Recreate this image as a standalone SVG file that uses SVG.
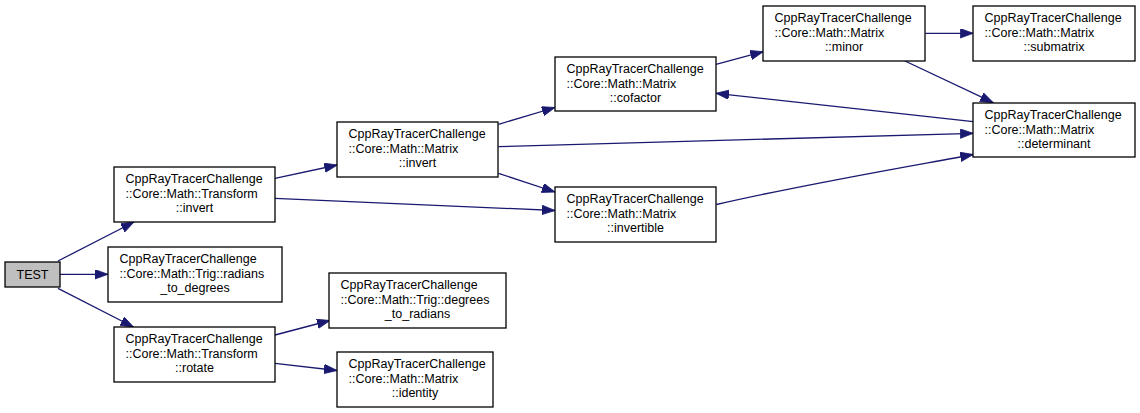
<svg xmlns="http://www.w3.org/2000/svg" width="1140" height="413" viewBox="0 0 1140 413">
<style>
.bg{fill:#ffffff}
.box{fill:#ffffff;stroke:#000000;stroke-width:1.3}
.root{fill:#bfbfbf;stroke:#000000;stroke-width:1.3}
text{font-family:"Liberation Sans",Arial,Helvetica,sans-serif;font-size:12.5px;fill:#000000}
.m{text-anchor:middle}
.e{fill:none;stroke:#191970;stroke-width:1.3}
</style>
<defs>
<marker id="ah" markerUnits="userSpaceOnUse" markerWidth="14" markerHeight="10" refX="13" refY="4.7" orient="auto">
<path d="M0,0 L13,4.7 L0,9.4 z" fill="#191970" stroke="#191970" stroke-width="0.8"/>
</marker>
</defs>
<rect class="bg" x="0" y="0" width="1140" height="413"/>
<g id="edges">
<path class="e" marker-end="url(#ah)" d="M58,261 L134,222"/>
<path class="e" marker-end="url(#ah)" d="M60,274.3 L108,274.3"/>
<path class="e" marker-end="url(#ah)" d="M58,288.3 L133.5,327"/>
<path class="e" marker-end="url(#ah)" d="M275,178.3 L337.3,165"/>
<path class="e" marker-end="url(#ah)" d="M275,198.3 L555,210.5"/>
<path class="e" marker-end="url(#ah)" d="M498.5,124.3 L555,107.5"/>
<path class="e" marker-end="url(#ah)" d="M498.5,146.7 L973.3,133.3"/>
<path class="e" marker-end="url(#ah)" d="M498.5,173.3 L555,192"/>
<path class="e" marker-end="url(#ah)" d="M716,64.3 L763.3,51.7"/>
<path class="e" marker-end="url(#ah)" d="M973.3,121.7 L716,93.3"/>
<path class="e" marker-end="url(#ah)" d="M925.5,33.3 L973.3,33.3"/>
<path class="e" marker-end="url(#ah)" d="M905,61 L993.3,102.7"/>
<path class="e" marker-end="url(#ah)" d="M716.5,204.5 C800,185 900,168 973.3,154.5"/>
<path class="e" marker-end="url(#ah)" d="M275,335 L330,320.5"/>
<path class="e" marker-end="url(#ah)" d="M275,363.3 L337,370.5"/>
</g>
<g id="node_test">
<rect class="root" x="5" y="262" width="55" height="25"/>
<text class="m" x="32.5" y="279">TEST</text>
</g>
<g id="node_transform_invert">
<rect class="box" x="114" y="167" width="161" height="55"/>
<text x="125.5" y="183">CppRayTracerChallenge</text>
<text x="125.5" y="197.5">::Core::Math::Transform</text>
<text class="m" x="194.5" y="212">::invert</text>
</g>
<g id="node_radians_to_degrees">
<rect class="box" x="108" y="247" width="174" height="55"/>
<text x="119.5" y="263">CppRayTracerChallenge</text>
<text x="119.5" y="277.5">::Core::Math::Trig::radians</text>
<text class="m" x="195" y="292">_to_degrees</text>
</g>
<g id="node_transform_rotate">
<rect class="box" x="114" y="327" width="161" height="55"/>
<text x="125.5" y="343">CppRayTracerChallenge</text>
<text x="125.5" y="357.5">::Core::Math::Transform</text>
<text class="m" x="194.5" y="372">::rotate</text>
</g>
<g id="node_matrix_invert">
<rect class="box" x="337" y="122" width="161" height="55"/>
<text x="348.5" y="138">CppRayTracerChallenge</text>
<text x="348.5" y="152.5">::Core::Math::Matrix</text>
<text class="m" x="417.5" y="167">::invert</text>
</g>
<g id="node_invertible">
<rect class="box" x="555" y="187" width="161" height="55"/>
<text x="566.5" y="203">CppRayTracerChallenge</text>
<text x="566.5" y="217.5">::Core::Math::Matrix</text>
<text class="m" x="635.5" y="232">::invertible</text>
</g>
<g id="node_cofactor">
<rect class="box" x="555" y="57" width="161" height="54"/>
<text x="566.5" y="73">CppRayTracerChallenge</text>
<text x="566.5" y="87.5">::Core::Math::Matrix</text>
<text class="m" x="635.5" y="102">::cofactor</text>
</g>
<g id="node_minor">
<rect class="box" x="763" y="6" width="162" height="55"/>
<text x="774.5" y="22">CppRayTracerChallenge</text>
<text x="774.5" y="36.5">::Core::Math::Matrix</text>
<text class="m" x="844" y="51">::minor</text>
</g>
<g id="node_submatrix">
<rect class="box" x="973" y="6" width="162" height="55"/>
<text x="984.5" y="22">CppRayTracerChallenge</text>
<text x="984.5" y="36.5">::Core::Math::Matrix</text>
<text class="m" x="1054" y="51">::submatrix</text>
</g>
<g id="node_determinant">
<rect class="box" x="973" y="103" width="162" height="54"/>
<text x="984.5" y="119">CppRayTracerChallenge</text>
<text x="984.5" y="133.5">::Core::Math::Matrix</text>
<text class="m" x="1054" y="148">::determinant</text>
</g>
<g id="node_degrees_to_radians">
<rect class="box" x="329" y="273" width="177" height="55"/>
<text x="340.5" y="289">CppRayTracerChallenge</text>
<text x="340.5" y="303.5">::Core::Math::Trig::degrees</text>
<text class="m" x="417.5" y="318">_to_radians</text>
</g>
<g id="node_identity">
<rect class="box" x="337" y="352" width="156" height="55"/>
<text x="348.5" y="368">CppRayTracerChallenge</text>
<text x="348.5" y="382.5">::Core::Math::Matrix</text>
<text class="m" x="415" y="397">::identity</text>
</g>
</svg>
